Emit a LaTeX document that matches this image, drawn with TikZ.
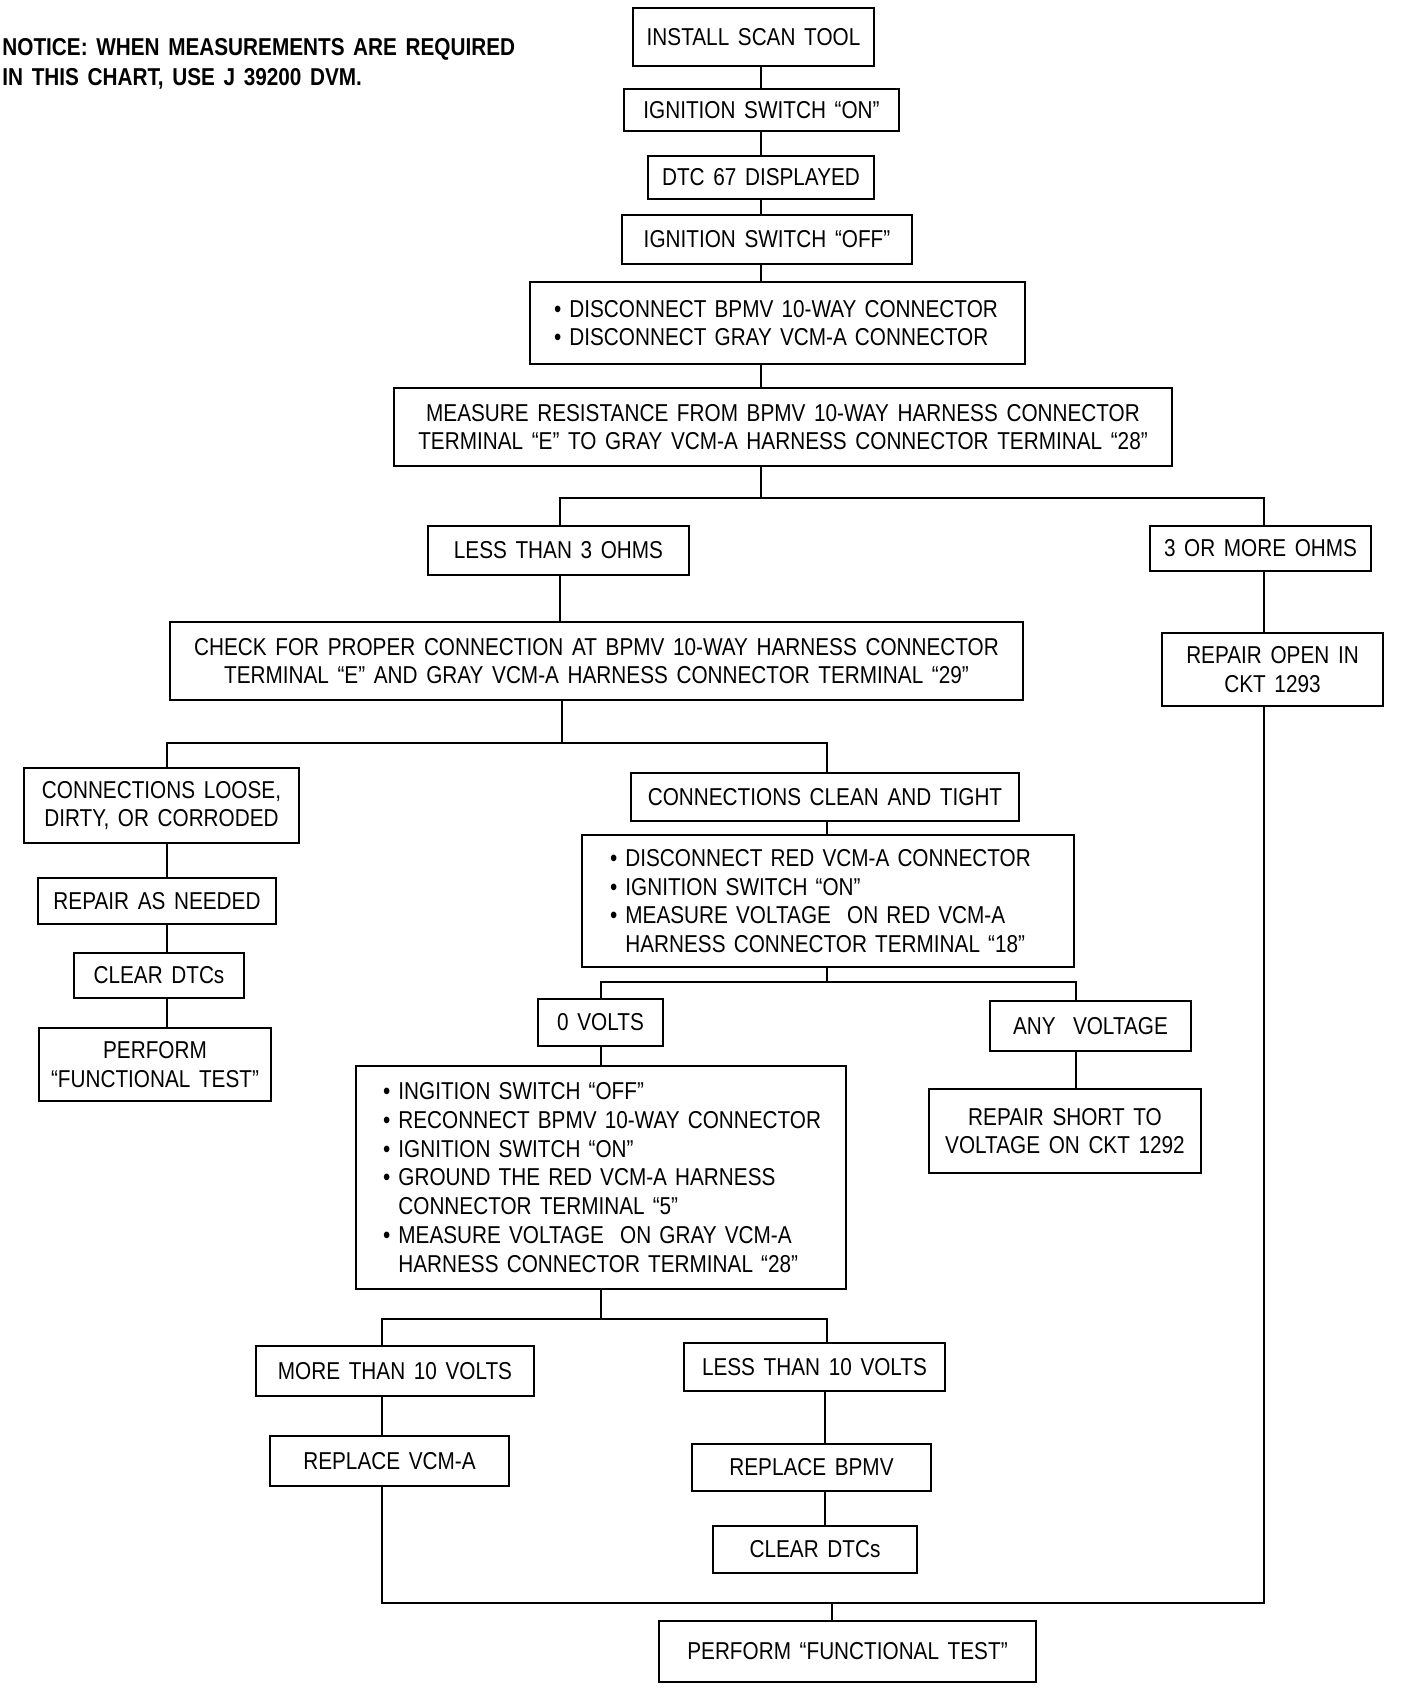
\documentclass[tikz,border=0pt]{standalone}
\usepackage{fontspec}
\setmainfont{Liberation Sans}[FakeStretch=0.85, WordSpace=1.5]
\newcommand\boxfont{\fontsize{12.2}{14.4}\selectfont}
\newcommand\notefont{\fontsize{12.2}{15}\selectfont\bfseries}
\begin{document}
\begin{tikzpicture}[x=0.5pt,y=-0.5pt,
  box/.style={draw, line width=1.1pt, inner sep=0pt, align=center, font=\boxfont},
  bl/.style={box, align=left},
  ln/.style={line width=1pt}]
\fill[white] (0,0) rectangle (1408,1688);
\useasboundingbox (0,0) rectangle (1408,1688);

\node[anchor=north west, inner sep=0pt, align=left, font=\notefont] (notice) at (2,38)
  {NOTICE: WHEN MEASUREMENTS ARE REQUIRED\\IN THIS CHART, USE J 39200 DVM.};

\node[box, minimum width=120.5pt, minimum height=29pt] (install) at (753.5,37) {INSTALL SCAN TOOL};
\node[box, minimum width=137.5pt, minimum height=21pt] (ignon) at (761.5,110) {IGNITION SWITCH “ON”};
\node[box, minimum width=113pt, minimum height=21.5pt] (dtc) at (761,177.5) {DTC 67 DISPLAYED};
\node[box, minimum width=145pt, minimum height=24.5pt] (ignoff) at (767,239.5) {IGNITION SWITCH “OFF”};
\node[bl, minimum width=247.5pt, minimum height=41pt, text width=223.5pt, inner xsep=12pt] (disc) at (777.5,323)
  {\mbox{•\ DISCONNECT BPMV 10-WAY CONNECTOR}\\\mbox{•\ DISCONNECT GRAY VCM-A CONNECTOR}};
\node[box, minimum width=389pt, minimum height=39pt] (meas) at (783,427)
  {MEASURE RESISTANCE FROM BPMV 10-WAY HARNESS CONNECTOR\\TERMINAL “E” TO GRAY VCM-A HARNESS CONNECTOR TERMINAL “28”};
\node[box, minimum width=130.5pt, minimum height=24.5pt] (lt3) at (558.5,550.5) {LESS THAN 3 OHMS};
\node[box, minimum width=110.5pt, minimum height=22.5pt] (ge3) at (1260.5,548.5) {3 OR MORE OHMS};
\node[box, minimum width=426.5pt, minimum height=39pt] (check) at (596.5,661)
  {CHECK FOR PROPER CONNECTION AT BPMV 10-WAY HARNESS CONNECTOR\\TERMINAL “E” AND GRAY VCM-A HARNESS CONNECTOR TERMINAL “29”};
\node[box, minimum width=110.5pt, minimum height=36.5pt] (ropen) at (1272.5,669.5) {REPAIR OPEN IN\\CKT 1293};
\node[box, minimum width=137.5pt, minimum height=37.5pt] (loose) at (161.5,805.5) {CONNECTIONS LOOSE,\\DIRTY, OR CORRODED};
\node[box, minimum width=194pt, minimum height=24pt] (clean) at (825,797) {CONNECTIONS CLEAN AND TIGHT};
\node[box, minimum width=119pt, minimum height=23pt] (repair) at (157,901) {REPAIR AS NEEDED};
\node[box, minimum width=85pt, minimum height=22.5pt] (clear1) at (159,975.5) {CLEAR DTCs};
\node[box, minimum width=116pt, minimum height=36.5pt] (perf1) at (155,1064.5) {PERFORM\\“FUNCTIONAL TEST”};
\node[bl, minimum width=246pt, minimum height=66pt, text width=218pt, inner xsep=14pt] (red) at (828,901)
  {\mbox{•\ DISCONNECT RED VCM-A CONNECTOR}\\
   \mbox{•\ IGNITION SWITCH “ON”}\\
   \mbox{•\ MEASURE VOLTAGE\ \ ON RED VCM-A}\\
   \mbox{\hphantom{•\ }HARNESS CONNECTOR TERMINAL “18”}};
\node[box, minimum width=62.5pt, minimum height=23.5pt] (zerov) at (600.5,1022.5) {0 VOLTS};
\node[box, minimum width=100.5pt, minimum height=25pt] (anyv) at (1090.5,1026) {ANY\ \ VOLTAGE};
\node[box, minimum width=136pt, minimum height=42pt] (short) at (1065,1131) {REPAIR SHORT TO\\VOLTAGE ON CKT 1292};
\node[bl, minimum width=245pt, minimum height=111.5pt, text width=218pt, inner xsep=13.5pt] (ign2) at (601,1177.5)
  {\mbox{•\ INGITION SWITCH “OFF”}\\
   \mbox{•\ RECONNECT BPMV 10-WAY CONNECTOR}\\
   \mbox{•\ IGNITION SWITCH “ON”}\\
   \mbox{•\ GROUND THE RED VCM-A HARNESS}\\
   \mbox{\hphantom{•\ }CONNECTOR TERMINAL “5”}\\
   \mbox{•\ MEASURE VOLTAGE\ \ ON GRAY VCM-A}\\
   \mbox{\hphantom{•\ }HARNESS CONNECTOR TERMINAL “28”}};
\node[box, minimum width=139pt, minimum height=25pt] (mt10) at (395,1371) {MORE THAN 10 VOLTS};
\node[box, minimum width=130.5pt, minimum height=24pt] (lt10) at (814.5,1367) {LESS THAN 10 VOLTS};
\node[box, minimum width=119.5pt, minimum height=25pt] (rvcm) at (389.5,1461) {REPLACE VCM-A};
\node[box, minimum width=119.5pt, minimum height=23.5pt] (rbpmv) at (811.5,1467.5) {REPLACE BPMV};
\node[box, minimum width=102pt, minimum height=23.5pt] (clear2) at (815,1549.5) {CLEAR DTCs};
\node[box, minimum width=188.5pt, minimum height=30.5pt] (perf2) at (847.5,1651.5) {PERFORM “FUNCTIONAL TEST”};

\coordinate (xm) at (761,0);
\coordinate (b1) at (0,498);
\coordinate (xl3) at (560,0);
\coordinate (xr) at (1264,0);
\coordinate (xc) at (562,0);
\coordinate (b2) at (0,743);
\coordinate (xl) at (167,0);
\coordinate (xcl) at (827,0);
\coordinate (b3) at (0,982);
\coordinate (x0) at (601,0);
\coordinate (xa) at (1076,0);
\coordinate (b4) at (0,1319);
\coordinate (xm10) at (382,0);
\coordinate (xb) at (825,0);
\coordinate (b5) at (0,1603);
\coordinate (xp) at (832,0);

\draw[ln] (install.south -| xm) -- (ignon.north -| xm);
\draw[ln] (ignon.south -| xm) -- (dtc.north -| xm);
\draw[ln] (dtc.south -| xm) -- (ignoff.north -| xm);
\draw[ln] (ignoff.south -| xm) -- (disc.north -| xm);
\draw[ln] (disc.south -| xm) -- (meas.north -| xm);
\draw[ln] (meas.south -| xm) -- (xm |- b1);
\draw[ln] (lt3.north -| xl3) |- (xr |- b1) -- (ge3.north -| xr);
\draw[ln] (lt3.south -| xl3) -- (check.north -| xl3);
\draw[ln] (ge3.south -| xr) -- (ropen.north -| xr);
\draw[ln] (check.south -| xc) -- (xc |- b2);
\draw[ln] (loose.north -| xl) |- (xcl |- b2) -- (clean.north -| xcl);
\draw[ln] (loose.south -| xl) -- (repair.north -| xl);
\draw[ln] (repair.south -| xl) -- (clear1.north -| xl);
\draw[ln] (clear1.south -| xl) -- (perf1.north -| xl);
\draw[ln] (clean.south -| xcl) -- (red.north -| xcl);
\draw[ln] (red.south -| xcl) -- (xcl |- b3);
\draw[ln] (zerov.north -| x0) |- (xa |- b3) -- (anyv.north -| xa);
\draw[ln] (zerov.south -| x0) -- (ign2.north -| x0);
\draw[ln] (anyv.south -| xa) -- (short.north -| xa);
\draw[ln] (ign2.south -| x0) -- (x0 |- b4);
\draw[ln] (mt10.north -| xm10) |- (xcl |- b4) -- (lt10.north -| xcl);
\draw[ln] (mt10.south -| xm10) -- (rvcm.north -| xm10);
\draw[ln] (lt10.south -| xb) -- (rbpmv.north -| xb);
\draw[ln] (rbpmv.south -| xb) -- (clear2.north -| xb);
\draw[ln] (rvcm.south -| xm10) |- (xr |- b5) -- (ropen.south -| xr);
\draw[ln] (xp |- b5) -- (perf2.north -| xp);
\end{tikzpicture}
\end{document}
